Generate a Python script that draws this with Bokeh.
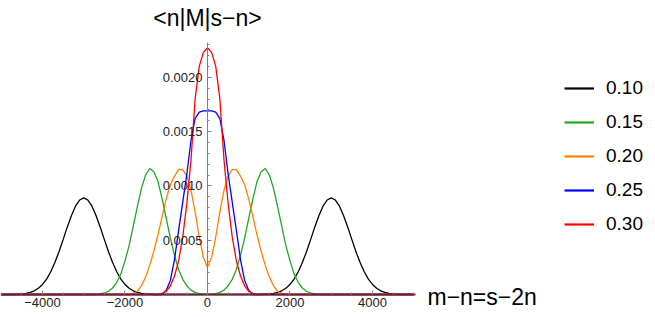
from bokeh.plotting import figure
from bokeh.models import FixedTicker, Label, Legend, LegendItem, Range1d, PrintfTickFormatter
from bokeh.embed import file_html
from bokeh.resources import INLINE

# m-n grid (step 100) from -5000 to 5000
X = list(range(-5000, 5001, 100))

# values (rows of ten, left to right)
black = ([0, 0, 0, 0, 0.000003, 0.000006, 0.000011, 0.000019, 0.000034, 0.000058]          # -5000..-4100
         + [0.000093, 0.000142, 0.000209, 0.000294, 0.000394, 0.000505, 0.00062, 0.000726, 0.000813, 0.00087]  # -4000..-3100
         + [0.00089, 0.00087, 0.000813, 0.000726, 0.00062, 0.000505, 0.000394, 0.000294, 0.000209, 0.000142]  # -3000..-2100
         + [0.000093, 0.000058, 0.000034, 0.000019, 0.000011, 0.000006, 0.000003, 0, 0, 0]  # -2000..-1100
         + [0, 0, 0, 0, 0, 0, 0, 0, 0, 0]            # -1000..-100
         + [0]                                       # 0
         + [0, 0, 0, 0, 0, 0, 0, 0, 0, 0]            # 100..1000
         + [0, 0, 0, 0.000003, 0.000006, 0.000011, 0.000019, 0.000034, 0.000058, 0.000093]  # 1100..2000
         + [0.000142, 0.000209, 0.000294, 0.000394, 0.000505, 0.00062, 0.000726, 0.000813, 0.00087, 0.00089]  # 2100..3000
         + [0.00087, 0.000813, 0.000726, 0.00062, 0.000505, 0.000394, 0.000294, 0.000209, 0.000142, 0.000093]  # 3100..4000
         + [0.000058, 0.000034, 0.000019, 0.000011, 0.000006, 0.000003, 0, 0, 0, 0])  # 4100..5000

green = ([0] * 20                                                                          # -5000..-3100
         + [0, 0, 0, 0, 0.000005, 0.000015, 0.00003, 0.00006, 0.00011, 0.00019]             # -3000..-2100
         + [0.00031, 0.00045, 0.00063, 0.00081, 0.00098, 0.0011, 0.00116, 0.00113, 0.00104, 0.00088]  # -2000..-1100
         + [0.0007, 0.00052, 0.00036, 0.00023, 0.00014, 0.00008, 0.00004, 0.00002, 0.000009, 0.000004]  # -1000..-100
         + [0.000002]                                                                      # 0
         + [0.000004, 0.000009, 0.00002, 0.00004, 0.00008, 0.00014, 0.00023, 0.00036, 0.00052, 0.0007]  # 100..1000
         + [0.00088, 0.00104, 0.00113, 0.00116, 0.0011, 0.00098, 0.00081, 0.00063, 0.00045, 0.00031]  # 1100..2000
         + [0.00019, 0.00011, 0.00006, 0.00003, 0.000015, 0.000005, 0, 0, 0, 0]             # 2100..3000
         + [0] * 20)                                                                       # 3100..5000

orange = ([0] * 30                                                                         # -5000..-2100
          + [0, 0, 0.00001, 0.00003, 0.00008, 0.00016, 0.00027, 0.0004, 0.00055, 0.00072]   # -2000..-1100
          + [0.00088, 0.00101, 0.00109, 0.00115, 0.00115, 0.00109, 0.00096, 0.00076, 0.00053, 0.00034]  # -1000..-100
          + [0.00025]                                                                      # 0
          + [0.00034, 0.00053, 0.00076, 0.00096, 0.00109, 0.00115, 0.00115, 0.00109, 0.00101, 0.00088]  # 100..1000
          + [0.00072, 0.00055, 0.0004, 0.00027, 0.00016, 0.00008, 0.00003, 0.00001, 0, 0]   # 1100..2000
          + [0] * 30)                                                                      # 2100..5000

blue = ([0] * 40                                                                           # -5000..-1100
        + [0.00004, 0.00013, 0.00032, 0.00059, 0.00085, 0.00111, 0.00142, 0.00162, 0.00168, 0.00169]  # -1000..-100
        + [0.00169]                                                                        # 0
        + [0.00169, 0.00168, 0.00162, 0.00142, 0.00111, 0.00085, 0.00059, 0.00032, 0.00013, 0.00004]  # 100..1000
        + [0] * 40)                                                                        # 1100..5000

red = ([0] * 30                                                                            # -5000..-2100
       + [0, 0, 0, 0, 0, 0, 0, 0, 0, 0.00001]                                              # -2000..-1100
       + [0.00003, 0.00008, 0.00017, 0.00031, 0.00053, 0.00084, 0.00124, 0.0018, 0.0021, 0.00223]  # -1000..-100
       + [0.00227]                                                                         # 0
       + [0.00223, 0.0021, 0.0018, 0.00124, 0.00084, 0.00053, 0.00031, 0.00017, 0.00008, 0.00003]  # 100..1000
       + [0.00001, 0, 0, 0, 0, 0, 0, 0, 0, 0]                                              # 1100..2000
       + [0] * 30)                                                                         # 2100..5000

series_labels = ["0.10", "0.15", "0.20", "0.25", "0.30"]
series_colors = ["#000000", "#1fa81f", "#ff8000", "#0000ff", "#ff0000"]
series_values = [black, green, orange, blue, red]
for s in series_values:
    assert len(s) == len(X)

x_ticks = [-4000, -2000, 0, 2000, 4000]
x_tick_labels = ["\u22124000", "\u22122000", "0", "2000", "4000"]
x_minor_ticks = [-5000, -4500, -4000, -3500, -3000, -2500, -2000, -1500, -1000, -500, 0,
                 500, 1000, 1500, 2000, 2500, 3000, 3500, 4000, 4500, 5000]
y_ticks = [0.0005, 0.001, 0.0015, 0.002]
y_minor_ticks = [0.0001, 0.0002, 0.0003, 0.0004, 0.0005, 0.0006, 0.0007, 0.0008, 0.0009, 0.001,
                 0.0011, 0.0012, 0.0013, 0.0014, 0.0015, 0.0016, 0.0017, 0.0018, 0.0019, 0.002,
                 0.0021, 0.0022, 0.0023]

FONT = "Liberation Sans"

# the frame fills the whole canvas; ranges chosen so that the data region sits at the left
p = figure(width=655, height=317, output_backend="svg", toolbar_location=None,
           x_range=Range1d(-5018, 10861), y_range=Range1d(-0.0002118, 0.0027072),
           min_border_left=0, min_border_right=0, min_border_top=0, min_border_bottom=0)
p.grid.visible = False
p.outline_line_color = None

for vals, col in zip(series_values, series_colors):
    p.line(X, vals, line_color=col, line_width=1.3)

# legend swatches (thicker lines; a single point draws nothing on the plot)
legend_items = []
for lab, col, vals in zip(series_labels, series_colors, series_values):
    lr = p.line(X[:1], vals[:1], line_color=col, line_width=2.2)
    legend_items.append(LegendItem(label=lab, renderers=[lr]))

legend = Legend(items=legend_items, location=(564, 82), orientation="vertical",
                glyph_width=30, glyph_height=20, label_height=20, spacing=12,
                padding=0, margin=0, border_line_color=None, background_fill_alpha=0,
                label_text_font=FONT, label_text_font_size="19px", label_standoff=12,
                label_text_color="#000000")
p.add_layout(legend)

xa = p.xaxis[0]
xa.fixed_location = 0
xa.bounds = (-5018, 5042)
xa.ticker = FixedTicker(ticks=x_ticks, minor_ticks=x_minor_ticks)
xa.major_label_overrides = {t: l for t, l in zip(x_ticks, x_tick_labels)}
xa.axis_line_color = "#6b2436"
xa.axis_line_width = 2
xa.major_tick_in = 4
xa.major_tick_out = 0
xa.minor_tick_in = 2
xa.minor_tick_out = 0
xa.major_tick_line_color = "#808080"
xa.minor_tick_line_color = "#808080"
xa.major_label_text_font = FONT
xa.major_label_text_font_size = "13px"
xa.major_label_text_color = "#222222"
xa.major_label_standoff = 4

ya = p.yaxis[0]
ya.fixed_location = 0
ya.bounds = (0, 0.00232)
ya.ticker = FixedTicker(ticks=y_ticks, minor_ticks=y_minor_ticks)
ya.formatter = PrintfTickFormatter(format="%.4f")
ya.axis_line_color = "#808080"
ya.axis_line_width = 1
ya.major_tick_in = 4
ya.major_tick_out = 0
ya.minor_tick_in = 2
ya.minor_tick_out = 0
ya.major_tick_line_color = "#808080"
ya.minor_tick_line_color = "#808080"
ya.major_label_text_font = FONT
ya.major_label_text_font_size = "13px"
ya.major_label_text_color = "#222222"
ya.major_label_standoff = 5

title = Label(x=0, y=0.00255, text="<n|M|s\u2212n>", text_align="center", text_baseline="middle",
              text_font=FONT, text_font_size="23px", text_color="#000000")
p.add_layout(title)
xlabel = Label(x=5333, y=-0.0000276, text="m\u2212n=s\u22122n", text_align="left", text_baseline="middle",
               text_font=FONT, text_font_size="23px", text_color="#000000")
p.add_layout(xlabel)

open("out.html", "w").write(file_html(p, INLINE))
